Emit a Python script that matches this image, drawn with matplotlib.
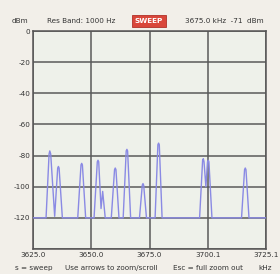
import matplotlib
matplotlib.use("Agg")
import matplotlib.pyplot as plt

# spectrum trace (kHz, dBm)
trace_khz = [3625.0, 3630.6, 3631.9, 3632.2, 3632.6, 3634.3, 3635.6, 3635.9, 3636.2, 3637.6,
             3644.2, 3645.6, 3645.9, 3646.2, 3647.6,
             3651.2, 3652.6, 3652.9, 3653.2, 3654.2, 3654.9, 3656.0,
             3658.6, 3660.0, 3660.3, 3660.6, 3661.9,
             3663.7, 3665.0, 3665.3, 3665.6, 3666.9,
             3670.7, 3671.9, 3672.2, 3672.5, 3673.7,
             3677.4, 3678.6, 3678.9, 3679.2, 3680.4,
             3696.5, 3697.8, 3698.1, 3698.4, 3699.2, 3699.9, 3700.2, 3700.5, 3701.8,
             3714.5, 3715.8, 3716.1, 3716.4, 3717.7,
             3725.0]
trace_dbm = [-120, -120, -79, -77, -79, -119, -88, -87, -88, -120,
             -120, -86, -85, -86, -120,
             -120, -84, -83, -84, -114, -103, -120,
             -120, -89, -88, -89, -120,
             -120, -77, -76, -77, -120,
             -120, -99, -98, -99, -120,
             -120, -73, -72, -73, -120,
             -120, -83, -82, -84, -100, -84, -83, -84, -120,
             -120, -89, -88, -89, -120,
             -120]

x_ticks = [3625, 3650, 3675, 3700, 3725]
x_labels = ['3625.0', '3650.0', '3675.0', '3700.1', '3725.1']
y_ticks = [0, -20, -40, -60, -80, -100, -120, -140]
y_labels = ['0', '-20', '-40', '-60', '-80', '-100', '-120', '']

fig = plt.figure(figsize=(2.8, 2.74), dpi=100, facecolor='#f2efe9')
ax = fig.add_axes([33/280, 1 - 249/274, 233/280, 218/274])
ax.set_facecolor('#eef1ea')

ax.plot(trace_khz, trace_dbm, color='#8a8ae4', linewidth=1.0, zorder=3)

ax.set_xlim(3625, 3725)
ax.set_ylim(-140, 0)
ax.set_xticks(x_ticks)
ax.set_xticklabels(x_labels)
ax.set_yticks(y_ticks)
ax.set_yticklabels(y_labels)
ax.tick_params(length=0, labelsize=5.2, colors='#333333', pad=2)
ax.grid(True, color='#5a5a5a', linewidth=1.1)
ax.set_axisbelow(True)
for s in ax.spines.values():
    s.set_color('#555555')
    s.set_linewidth(1.1)

# header line
fs = 5.2
fig.text(12/280, 1 - 21/274, 'dBm', fontsize=fs, color='#333333', va='center')
fig.text(47/280, 1 - 21/274, 'Res Band: 1000 Hz', fontsize=fs, color='#333333', va='center')
fig.text(149/280, 1 - 21/274, 'SWEEP', fontsize=fs, color='white', va='center', ha='center',
         fontweight='bold',
         bbox=dict(boxstyle='square,pad=0.4', facecolor='#d9463a', edgecolor='#b03028', linewidth=0.6))
fig.text(185/280, 1 - 21/274, '3675.0 kHz  -71  dBm', fontsize=fs, color='#333333', va='center')

# footer line
fig.text(15/280, 1 - 268/274, 's = sweep', fontsize=fs, color='#333333', va='center')
fig.text(65/280, 1 - 268/274, 'Use arrows to zoom/scroll', fontsize=fs, color='#333333', va='center')
fig.text(173/280, 1 - 268/274, 'Esc = full zoom out', fontsize=fs, color='#333333', va='center')
fig.text(258/280, 1 - 268/274, 'kHz', fontsize=fs, color='#333333', va='center')

fig.savefig('out.png', dpi=100, facecolor=fig.get_facecolor())
